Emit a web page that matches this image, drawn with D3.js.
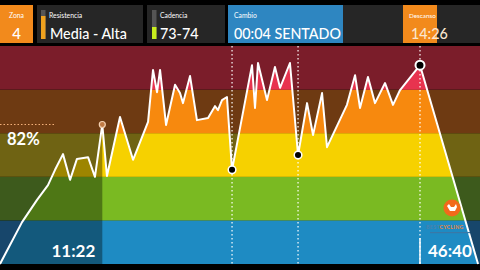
<!DOCTYPE html>
<html><head><meta charset="utf-8">
<script src="https://cdn.jsdelivr.net/npm/d3@7"></script>
<style>html,body{margin:0;padding:0;background:#000;}svg{display:block;font-family:Lato,"Open Sans",sans-serif;}</style>
</head><body>
<script>
// ---- data ----
const timeSec = [0,147,247,320,367,420,467,513,587,633,682,713,800,887,987,1020,1047,1067,1107,1167,1200,1220,1267,1313,1387,1433,1453,1480,1513,1547,1680,1700,1720,1780,1833,1867,1933,1987,2047,2087,2147,2180,2313,2367,2400,2453,2500,2567,2620,2667,2800,3187];
const pctValues = [50,59.6,64.7,68.1,71.6,75.2,69.3,74.1,74.5,70.0,82,70.2,83.7,73.9,82.6,94.5,89.4,94.5,81.9,91.1,89.2,86.9,93.1,83.0,83.5,86.2,85.3,87.6,88.3,71.6,95.6,85.8,96.1,87.6,95.2,90.4,96.1,75.0,86.9,79.6,89.2,76.8,86.5,93.3,85.8,92.9,86.9,91.5,86.5,89.9,95.6,50];
const zoneEdges = [50,60,70,80,90,100];
const zoneBright = ["#1e8bc3","#7aba22","#f6d100","#f7890e","#e8334f"];
const zoneDim = ["#17466b","#3d5a1c","#6f6313","#6e3a12","#7b1d2a"];
const currentTime = 682;      // 11:22
const currentPct = 82;
const changeTimes = [1547,1987,2800];
const timeLabels = ["11:22","46:40"];
const headerLabels = ["Zona","Resistencia","Cadencia","Cambio","Descanso"];
const headerValues = ["4","Media - Alta","73-74","00:04 SENTADO","14:26"];

const W=480,H=270;
const svg=d3.select("body").append("svg").attr("width",W).attr("height",H);
svg.append("rect").attr("width",W).attr("height",H).attr("fill","#000");

const x=d3.scaleLinear().domain([0,3200]).range([0,480]);
const y=d3.scaleLinear().domain([50,100]).range([264,46]);
const data=timeSec.map((t,i)=>({t,p:pctValues[i]}));
const zones=d3.range(zoneEdges.length-1).map(i=>({lo:zoneEdges[i],hi:zoneEdges[i+1],bright:zoneBright[i],dim:zoneDim[i]}));

// background bands
svg.append("g").selectAll("rect").data(zones).join("rect")
  .attr("x",0).attr("width",W)
  .attr("y",d=>y(d.hi)).attr("height",d=>y(d.lo)-y(d.hi))
  .attr("fill",d=>d.dim);

// area clip
const area=d3.area().x(d=>x(d.t)).y0(y(50)).y1(d=>y(d.p));
svg.append("clipPath").attr("id","ac").append("path").attr("d",area(data));
const ag=svg.append("g").attr("clip-path","url(#ac)");
ag.selectAll("rect").data(zones).join("rect")
  .attr("x",0).attr("width",W)
  .attr("y",d=>y(d.hi)).attr("height",d=>y(d.lo)-y(d.hi))
  .attr("fill",d=>d.bright);
ag.append("rect").attr("x",0).attr("y",y(100)).attr("width",x(currentTime)).attr("height",y(50)-y(100))
  .attr("fill","#000").attr("opacity",0.36);

// dotted verticals
svg.append("g").selectAll("line").data(changeTimes).join("line")
  .attr("x1",d=>x(d)).attr("x2",d=>x(d)).attr("y1",y(100)).attr("y2",y(50))
  .attr("stroke","#fff").attr("stroke-opacity",0.8).attr("stroke-width",1.5).attr("stroke-dasharray","1.5,2.5");

// horizontal dotted at current pct
svg.append("line").attr("x1",0).attr("x2",55).attr("y1",y(currentPct)).attr("y2",y(currentPct))
  .attr("stroke","#f3b07a").attr("stroke-width",1.2).attr("stroke-dasharray","1.5,2");

// line
svg.append("path").attr("d",d3.line().x(d=>x(d.t)).y(d=>y(d.p))(data))
  .attr("fill","none").attr("stroke","#fff").attr("stroke-width",2).attr("stroke-linejoin","round");

// markers
const pAt=t=>data.find(d=>d.t===t).p;
svg.append("circle").attr("cx",x(currentTime)).attr("cy",y(pAt(currentTime))).attr("r",3)
  .attr("fill","#c07a44").attr("stroke","#f4d0b0").attr("stroke-width",1.2);
svg.append("g").selectAll("circle").data(changeTimes).join("circle")
  .attr("cx",d=>x(d)).attr("cy",d=>y(pAt(d))).attr("r",(d,i)=>i===2?4.5:3.8)
  .attr("fill","#000").attr("stroke","#fff").attr("stroke-width",(d,i)=>i===2?2:1.5);

// 82% label
svg.append("text").attr("x",7).attr("y",145).attr("fill","#fff").attr("font-size",16.5).attr("font-weight",700).text(currentPct+"%");

// bottom time labels
svg.append("text").attr("x",x(currentTime)-7).attr("y",257).attr("text-anchor","end").attr("fill","#fff")
  .attr("font-size",17).attr("font-weight",700).text(timeLabels[0]);
svg.append("line").attr("x1",x(2800)).attr("x2",x(2800)).attr("y1",238).attr("y2",264).attr("stroke","#fff").attr("stroke-width",1.5);
svg.append("text").attr("x",x(2800)+8).attr("y",257).attr("fill","#fff")
  .attr("font-size",17).attr("font-weight",700).text(timeLabels[1]);

// logo
const lg=svg.append("g").attr("transform","translate(452,208)");
lg.append("circle").attr("r",8.5).attr("fill","#f26a1b");
lg.append("path").attr("d","M-5,-2 L-3,-4 L-1,-1 L2,-1 L4,-4 L5,-1 L3,3 L-2,3 Z").attr("fill","#fff");
const lt=svg.append("text").attr("x",426).attr("y",229).attr("font-size",5.2).attr("font-weight",700).attr("letter-spacing",0.3);
lt.append("tspan").attr("fill","#4a82ae").text("BEST");
lt.append("tspan").attr("fill","#e8843a").text("CYCLING");
svg.append("rect").attr("x",430).attr("y",232).attr("width",40).attr("height",1.2).attr("fill","#3a78a6");

// header
const boxes=[
 {x:0,w:33,fill:"#f28a1c"},
 {x:37,w:106,fill:"#262626"},
 {x:147,w:78,fill:"#262626"},
 {x:228,w:115,fill:"#2e86c1"},
 {x:403,w:34,fill:"#f28a1c"}
];
svg.append("rect").attr("x",343).attr("y",5).attr("width",60).attr("height",38).attr("fill","#262626");
svg.append("rect").attr("x",437).attr("y",5).attr("width",43).attr("height",38).attr("fill","#262626");
svg.append("g").selectAll("rect").data(boxes).join("rect")
  .attr("x",d=>d.x).attr("y",5).attr("width",d=>d.w).attr("height",38).attr("fill",d=>d.fill);
// indicator bars
svg.append("rect").attr("x",41).attr("y",10).attr("width",4.5).attr("height",29).attr("fill","#555");
svg.append("rect").attr("x",41).attr("y",16).attr("width",4.5).attr("height",23).attr("fill","#f0a21e");
svg.append("rect").attr("x",152).attr("y",10).attr("width",4.5).attr("height",29).attr("fill","#555");
svg.append("rect").attr("x",152).attr("y",27).attr("width",4.5).attr("height",12).attr("fill","#c8ee1e");

const labelX=[9,49,160,234,409];
const valX=[16.5,50,160,234,411];
svg.append("g").selectAll("text").data(headerLabels).join("text")
  .attr("x",(d,i)=>labelX[i]).attr("y",18).attr("fill","#fff").attr("font-size",(d,i)=>i===4?6.3:6.8).text(d=>d);
svg.append("g").selectAll("text").data(headerValues).join("text")
  .attr("x",(d,i)=>valX[i]).attr("y",39).attr("text-anchor",(d,i)=>i===0?"middle":"start")
  .attr("fill",(d,i)=>i===4?"#fbe6cf":"#fff").attr("font-size",(d,i)=>i===0?15:14.3)
  .attr("font-weight",500).text(d=>d);
</script>
</body></html>
